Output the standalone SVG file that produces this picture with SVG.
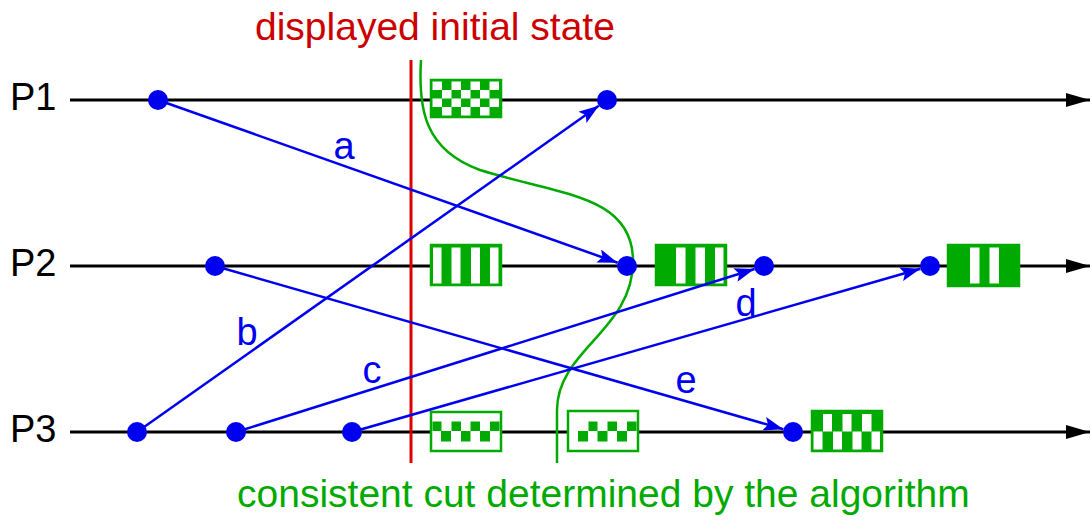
<svg xmlns="http://www.w3.org/2000/svg" width="1091" height="523" viewBox="0 0 1091 523">
  <style>
    .timeline { stroke: #000; stroke-width: 3; fill: none; marker-end: url(#timeArrow); }
    .msg { stroke: #0000f0; stroke-width: 2.5; fill: none; marker-end: url(#msgArrow); }
    .event { fill: #0000f0; }
    .state { stroke: #00aa00; stroke-width: 2.5; }
    .solid { fill: #00aa00; }
    .hollow { fill: #fff; }
    .w { fill: #fff; }
    .g { fill: #00aa00; }
    .proc { font-family: "Liberation Sans", Arial, sans-serif; font-size: 38px; fill: #000; }
    .lbl { font-family: "Liberation Sans", Arial, sans-serif; font-size: 38px; fill: #0000f0; text-anchor: middle; }
    .title { font-family: "Liberation Sans", Arial, sans-serif; font-size: 39px; }
  </style>
  <defs>
    <marker id="timeArrow" markerUnits="userSpaceOnUse" markerWidth="24" markerHeight="14" refX="24" refY="7" orient="auto">
      <path d="M0,0 L24,7 L0,14 z" fill="#000"/>
    </marker>
    <marker id="msgArrow" markerUnits="userSpaceOnUse" markerWidth="20" markerHeight="14" refX="20" refY="7" orient="auto">
      <path d="M0,0 L20,7 L0,14 L4,7 z" fill="#0000f0"/>
    </marker>
  </defs>

  <rect width="1091" height="523" fill="#fff"/>

  <!-- process time lines -->
  <g id="timelines">
    <line class="timeline" x1="70" y1="100" x2="1090" y2="100"/>
    <line class="timeline" x1="70" y1="266" x2="1090" y2="266"/>
    <line class="timeline" x1="70" y1="432" x2="1090" y2="432"/>
  </g>
  <text class="proc" x="10" y="110">P1</text>
  <text class="proc" x="10" y="276">P2</text>
  <text class="proc" x="10" y="442">P3</text>

  <!-- local states -->
  <g id="state-p1">
    <rect class="state solid" x="431" y="80" width="70" height="37"/>
    <rect class="w" x="432.5" y="81.5" width="9.5" height="8.5"/>
    <rect class="w" x="451.5" y="81.5" width="9.5" height="8.5"/>
    <rect class="w" x="470.5" y="81.5" width="9.5" height="8.5"/>
    <rect class="w" x="489.5" y="81.5" width="9.5" height="8.5"/>
    <rect class="w" x="442" y="90" width="9.5" height="8.5"/>
    <rect class="w" x="461" y="90" width="9.5" height="8.5"/>
    <rect class="w" x="480" y="90" width="9.5" height="8.5"/>
    <rect class="w" x="432.5" y="98.5" width="9.5" height="8.5"/>
    <rect class="w" x="451.5" y="98.5" width="9.5" height="8.5"/>
    <rect class="w" x="470.5" y="98.5" width="9.5" height="8.5"/>
    <rect class="w" x="489.5" y="98.5" width="9.5" height="8.5"/>
    <rect class="w" x="442" y="107" width="9.5" height="8.5"/>
    <rect class="w" x="461" y="107" width="9.5" height="8.5"/>
    <rect class="w" x="480" y="107" width="9.5" height="8.5"/>
  </g>

  <g id="state-p2a">
    <rect class="state solid" x="431" y="245" width="70" height="40"/>
    <rect class="w" x="433" y="247.5" width="8.5" height="36"/>
    <rect class="w" x="451.5" y="247.5" width="9" height="36"/>
    <rect class="w" x="471" y="247.5" width="9" height="36"/>
    <rect class="w" x="490" y="247.5" width="8.5" height="36"/>
  </g>

  <g id="state-p2b">
    <rect class="state solid" x="656" y="245" width="70" height="40"/>
    <rect class="w" x="676" y="247.5" width="9.5" height="36"/>
    <rect class="w" x="695.5" y="247.5" width="9.5" height="36"/>
    <rect class="w" x="715" y="247.5" width="8.5" height="36"/>
  </g>

  <g id="state-p2c">
    <rect class="state solid" x="948" y="245" width="71" height="41"/>
    <rect class="w" x="970" y="247.5" width="9.5" height="36"/>
    <rect class="w" x="989.5" y="247.5" width="9.5" height="36"/>
  </g>

  <g id="state-p3a">
    <rect class="state hollow" x="431" y="412" width="70" height="39"/>
    <rect class="g" x="432.5" y="421.5" width="9" height="9.5"/>
    <rect class="g" x="451.5" y="421.5" width="9.5" height="9.5"/>
    <rect class="g" x="470.5" y="421.5" width="9.5" height="9.5"/>
    <rect class="g" x="490" y="421.5" width="9.5" height="9.5"/>
    <rect class="g" x="441" y="431" width="10" height="10.5"/>
    <rect class="g" x="461" y="431" width="9.5" height="10.5"/>
    <rect class="g" x="480" y="431" width="10" height="10.5"/>
  </g>

  <g id="state-p3b">
    <rect class="state hollow" x="568" y="411" width="70" height="40"/>
    <rect class="g" x="588.5" y="421.5" width="9" height="9.5"/>
    <rect class="g" x="607.5" y="421.5" width="9.5" height="9.5"/>
    <rect class="g" x="627" y="421.5" width="9.5" height="9.5"/>
    <rect class="g" x="578" y="431" width="10" height="10.5"/>
    <rect class="g" x="597.5" y="431" width="10" height="10.5"/>
    <rect class="g" x="617" y="431" width="10" height="10.5"/>
  </g>

  <g id="state-p3c">
    <rect class="state solid" x="812" y="411" width="70" height="40"/>
    <rect class="w" x="823" y="414" width="9" height="17.5"/>
    <rect class="w" x="842.5" y="414" width="9" height="17.5"/>
    <rect class="w" x="862" y="414" width="9.5" height="17.5"/>
    <rect class="w" x="813.5" y="431.5" width="9" height="18"/>
    <rect class="w" x="833" y="431.5" width="9" height="18"/>
    <rect class="w" x="852.5" y="431.5" width="9" height="18"/>
    <rect class="w" x="871.5" y="431.5" width="8.5" height="18"/>
  </g>

  <!-- displayed initial state and consistent cut -->
  <g id="initial-state">
    <line x1="411" y1="60" x2="411" y2="463" stroke="#dd0000" stroke-width="3"/>
  </g>
  <g id="consistent-cut">
    <path d="M421,60 C418,110 425,150 480,170 C560,195 632,195 633,260 C634,330 557,350 557,410 L557,463" fill="none" stroke="#00aa00" stroke-width="2.5"/>
  </g>

  <!-- messages -->
  <g id="connectors">
    <line class="msg" x1="158" y1="100" x2="617.6" y2="262.7"/>
    <line class="msg" x1="137" y1="432" x2="598.8" y2="105.8"/>
    <line class="msg" x1="236" y1="432" x2="754.5" y2="269"/>
    <line class="msg" x1="352" y1="432" x2="920.4" y2="268.8"/>
    <line class="msg" x1="215" y1="266" x2="783.4" y2="429.2"/>
  </g>
  <text class="lbl" x="344" y="159">a</text>
  <text class="lbl" x="247" y="345">b</text>
  <text class="lbl" x="372" y="383">c</text>
  <text class="lbl" x="746" y="316">d</text>
  <text class="lbl" x="686" y="393">e</text>

  <!-- events -->
  <g id="events">
    <g id="ev-p1-send"><circle class="event" cx="158" cy="100" r="10"/></g>
    <g id="ev-p1-recv"><circle class="event" cx="607" cy="100" r="10"/></g>
    <g id="ev-p2-send"><circle class="event" cx="215" cy="266" r="10"/></g>
    <g id="ev-p2-recv-a"><circle class="event" cx="627" cy="266" r="10"/></g>
    <g id="ev-p2-recv-c"><circle class="event" cx="764" cy="266" r="10"/></g>
    <g id="ev-p2-recv-d"><circle class="event" cx="930" cy="266" r="10"/></g>
    <g id="ev-p3-send-b"><circle class="event" cx="137" cy="432" r="10"/></g>
    <g id="ev-p3-send-c"><circle class="event" cx="236" cy="432" r="10"/></g>
    <g id="ev-p3-send-d"><circle class="event" cx="352" cy="432" r="10"/></g>
    <g id="ev-p3-recv-e"><circle class="event" cx="793" cy="432" r="10"/></g>
  </g>

  <text class="title" x="255" y="40" fill="#cc0000">displayed initial state</text>
  <text class="title" x="237" y="507" fill="#00aa00">consistent cut determined by the algorithm</text>
</svg>
